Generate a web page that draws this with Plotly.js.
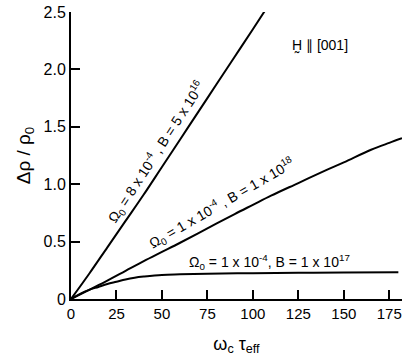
<!DOCTYPE html>
<html>
<head>
<meta charset="utf-8">
<script src="https://cdn.plot.ly/plotly-3.0.1.min.js"></script>
<style>html,body{margin:0;padding:0;background:#fff;}#chart{width:404px;height:362px;}</style>
</head>
<body>
<div id="chart"></div>
<script>
// Data
const topX = [0, 10, 20, 30, 40, 50, 60, 70, 80, 90, 100, 107];
const topY = [0, 0.22, 0.45, 0.68, 0.91, 1.15, 1.39, 1.63, 1.87, 2.11, 2.35, 2.52];

const midX = [0, 10, 20, 30, 40, 50, 60, 75, 90, 100, 110, 125, 140, 150, 165, 175, 182];
const midY = [0, 0.08, 0.16, 0.245, 0.33, 0.41, 0.49, 0.615, 0.74, 0.82, 0.9, 1.01, 1.12, 1.19, 1.30, 1.36, 1.40];

const lowX = [0, 5, 10, 15, 20, 25, 30, 35, 40, 50, 60, 75, 100, 125, 150, 180];
const lowY = [0, 0.045, 0.08, 0.105, 0.13, 0.15, 0.17, 0.185, 0.195, 0.21, 0.215, 0.22, 0.225, 0.228, 0.23, 0.232];

const xTickVals = [0, 25, 50, 75, 100, 125, 150, 175];
const xTickText = ["0", "25", "50", "75", "100", "125", "150", "175"];
const yTickVals = [0, 0.5, 1.0, 1.5, 2.0, 2.5];
const yTickText = ["0", "0.5", "1.0", "1.5", "2.0", "2.5"];

const labelTop = "Ω<sub>0</sub> = 8 x 10<sup>-4</sup> , B = 5 x 10<sup>16</sup>";
const labelMid = "Ω<sub>0</sub> = 1 x 10<sup>-4</sup> , B = 1 x 10<sup>18</sup>";
const labelLow = "Ω<sub>0</sub> = 1 x 10<sup>-4</sup>, B = 1 x 10<sup>17</sup>";
const labelField = "H̰ ∥ [001]";

const lineStyle = {color: '#000', width: 2, shape: 'spline'};
const font = {family: 'Liberation Sans, Arial, sans-serif', color: '#000'};

const traces = [
  {x: topX, y: topY, mode: 'lines', line: lineStyle, hoverinfo: 'skip', showlegend: false},
  {x: midX, y: midY, mode: 'lines', line: lineStyle, hoverinfo: 'skip', showlegend: false},
  {x: lowX, y: lowY, mode: 'lines', line: lineStyle, hoverinfo: 'skip', showlegend: false}
];

const layout = {
  width: 404, height: 362,
  margin: {l: 71, r: 2, t: 12, b: 63},
  paper_bgcolor: '#fff', plot_bgcolor: '#fff',
  font: Object.assign({size: 15}, font),
  showlegend: false,
  xaxis: {
    range: [0, 182], showgrid: false, zeroline: false,
    showline: true, linecolor: '#000', linewidth: 2,
    ticks: 'inside', ticklen: 9, tickwidth: 2, tickcolor: '#000',
    tickvals: xTickVals, ticktext: xTickText,
    tickfont: Object.assign({size: 15}, font),
    title: {text: 'ω<sub>c</sub> τ<sub>eff</sub>', font: Object.assign({size: 18}, font), standoff: 16}
  },
  yaxis: {
    range: [0, 2.5], showgrid: false, zeroline: false,
    showline: true, linecolor: '#000', linewidth: 2,
    ticks: 'inside', ticklen: 9, tickwidth: 2, tickcolor: '#000',
    tickvals: yTickVals, ticktext: yTickText,
    tickfont: Object.assign({size: 16}, font),
    title: {text: 'Δρ / ρ<sub>0</sub>', font: Object.assign({size: 19}, font), standoff: 8}
  },
  annotations: [
    {x: 47, y: 1.28, xref: 'x', yref: 'y', text: labelTop, showarrow: false, textangle: -57,
     font: Object.assign({size: 14}, font)},
    {x: 83, y: 0.84, xref: 'x', yref: 'y', text: labelMid, showarrow: false, textangle: -30,
     font: Object.assign({size: 14}, font)},
    {x: 109, y: 0.32, xref: 'x', yref: 'y', text: labelLow, showarrow: false,
     font: Object.assign({size: 14}, font)},
    {x: 137, y: 2.21, xref: 'x', yref: 'y', text: labelField, showarrow: false,
     font: Object.assign({size: 14}, font)}
  ]
};

Plotly.newPlot('chart', traces, layout, {staticPlot: true, displayModeBar: false});
</script>
</body>
</html>
